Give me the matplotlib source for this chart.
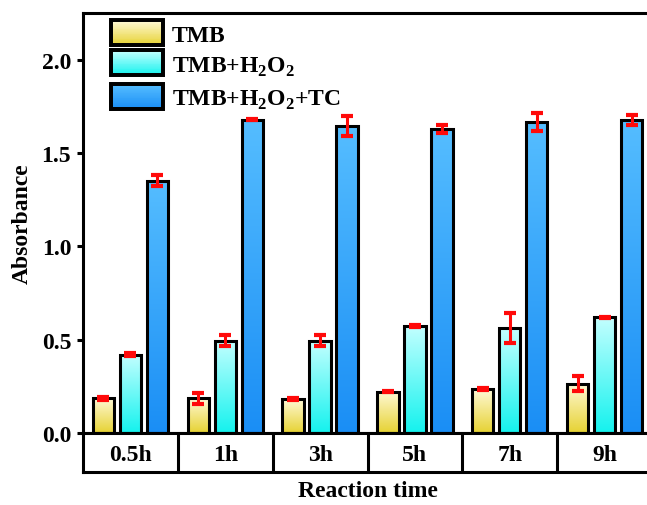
import numpy as np
import matplotlib
matplotlib.use("Agg")
import matplotlib.pyplot as plt
from matplotlib.colors import LinearSegmentedColormap
from matplotlib.patches import Rectangle

plt.rcParams['font.family'] = ['Liberation Serif', 'DejaVu Serif']
plt.rcParams['font.weight'] = 'bold'
plt.rcParams['mathtext.fontset'] = 'custom'
plt.rcParams['mathtext.rm'] = 'Liberation Serif:bold'
plt.rcParams['mathtext.bf'] = 'Liberation Serif:bold'

categories = ['0.5h', '1h', '3h', '5h', '7h', '9h']
series_names = ['TMB', r'TMB+H$_\mathbf{2}$O$_\mathbf{2}$', r'TMB+H$_\mathbf{2}$O$_\mathbf{2}$+TC']
tmb = [0.187, 0.187, 0.182, 0.222, 0.234, 0.265]
tmb_err = [0.008, 0.030, 0.004, 0.004, 0.005, 0.042]
tmb_h2o2 = [0.420, 0.495, 0.495, 0.575, 0.563, 0.620]
tmb_h2o2_err = [0.008, 0.030, 0.030, 0.004, 0.080, 0.004]
tmb_h2o2_tc = [1.352, 1.680, 1.645, 1.630, 1.666, 1.680]
tmb_h2o2_tc_err = [0.030, 0.004, 0.055, 0.020, 0.048, 0.026]
yticks = [0.0, 0.5, 1.0, 1.5, 2.0]
ytick_labels = ['0.0', '0.5', '1.0', '1.5', '2.0']

values = [tmb, tmb_h2o2, tmb_h2o2_tc]
errors = [tmb_err, tmb_h2o2_err, tmb_h2o2_tc_err]
grad_colors = [('#e6d232', '#fff9d6'), ('#14f2ee', '#c4ffff'), ('#1a8ef5', '#55bdff')]
cmaps = [LinearSegmentedColormap.from_list('g%d' % i, c) for i, c in enumerate(grad_colors)]

FS = 17
W, H = 647, 506
fig = plt.figure(figsize=(W / 100, H / 100), dpi=100)
left, right = 83, 652
ax = fig.add_axes([left / W, (H - 434) / H, (right - left) / W, (434 - 14) / H])
axc = fig.add_axes([left / W, (H - 473) / H, (right - left) / W, (473 - 434) / H])

x = np.arange(len(categories))
bw = 0.225
offs = [-0.285, 0.0, 0.285]
lw = 2.2
grad = np.linspace(0, 1, 256).reshape(-1, 1)
for s in range(3):
    bars = ax.bar(x + offs[s], values[s], width=bw, facecolor='none', edgecolor='black',
                  linewidth=lw, zorder=3)
    for b in bars:
        bx, by = b.get_x(), b.get_y()
        bwid, bh = b.get_width(), b.get_height()
        im = ax.imshow(grad, cmap=cmaps[s], origin='lower', aspect='auto',
                       extent=[bx, bx + bwid, by, by + bh], zorder=2)
        im.set_clip_path(b)
    ax.errorbar(x + offs[s], values[s], yerr=errors[s], fmt='none', ecolor='#ff0a0a',
                elinewidth=2.2, capsize=4.5, capthick=3.0, zorder=4)

ax.set_xlim(-0.5, len(categories) - 0.5)
ax.set_ylim(0, 2.252)
ax.set_yticks(yticks)
ax.set_yticklabels(ytick_labels)
ax.set_xticks([])
for sp in ax.spines.values():
    sp.set_linewidth(lw)
ax.tick_params(axis='y', direction='out', length=4.5, width=2.2, labelsize=FS, pad=4)
for t in ax.get_yticklabels():
    t.set_fontweight('bold')
ax.set_ylabel('Absorbance', fontsize=FS, fontweight='bold', labelpad=6)

# category box
axc.set_xlim(-0.5, len(categories) - 0.5)
axc.set_ylim(0, 1)
axc.set_xticks([])
axc.set_yticks([])
for sp in axc.spines.values():
    sp.set_linewidth(lw)
for i in range(1, len(categories)):
    axc.axvline(i - 0.5, color='black', linewidth=lw)
for i, c in enumerate(categories):
    axc.text(i, 0.45, c, ha='center', va='center', fontsize=FS, fontweight='bold')
axc.set_xlabel('Reaction time', fontsize=FS, fontweight='bold', labelpad=6)


# legend (drawn manually in figure pixel coordinates)
def grad_rect(px, py, pw, ph, cmap, n=30):
    for k in range(n):
        y0 = py + ph - ph * (k + 1) / n
        fig.add_artist(Rectangle((px / W, 1 - (y0 + ph / n + 0.3) / H), pw / W, (ph / n + 0.6) / H,
                                 facecolor=cmap(k / (n - 1)), edgecolor='none',
                                 transform=fig.transFigure, zorder=5))
    fig.add_artist(Rectangle((px / W, 1 - (py + ph) / H), pw / W, ph / H, facecolor='none',
                             edgecolor='black', linewidth=lw * 1.3, transform=fig.transFigure, zorder=6))


leg_tops = [21, 51, 85]
leg_base = [42, 73, 106]
for i in range(3):
    grad_rect(111, leg_tops[i], 52, 25, cmaps[i])
    fig.text(172 / W, 1 - leg_base[i] / H, series_names[i], fontsize=FS, fontweight='bold',
             ha='left', va='baseline', zorder=6)

fig.savefig('out.png', dpi=100)
